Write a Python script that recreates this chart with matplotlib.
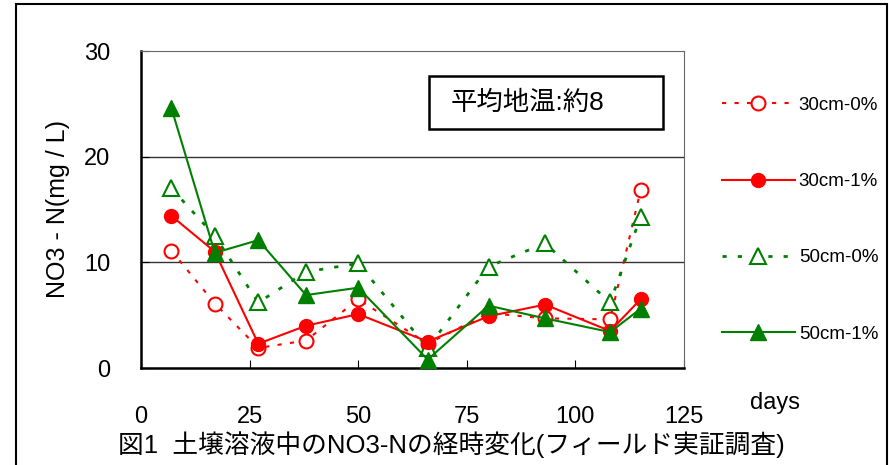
import matplotlib
matplotlib.use("Agg")
import matplotlib.pyplot as plt
from matplotlib.patches import Rectangle

plt.rcParams['font.family'] = ['Liberation Sans', 'Noto Sans CJK JP']

days = [7, 17, 27, 38, 50, 66, 80, 93, 108, 115]
s30_0 = [11.1, 6.1, 1.9, 2.6, 6.5, 2.3, 5.2, 4.7, 4.6, 16.8]
s30_1 = [14.4, 11.0, 2.3, 4.0, 5.1, 2.5, 4.9, 6.0, 3.5, 6.5]
s50_0 = [17.0, 12.5, 6.2, 9.1, 9.9, 1.9, 9.6, 11.8, 6.2, 14.3]
s50_1 = [24.6, 10.9, 12.1, 6.9, 7.6, 0.8, 5.9, 4.7, 3.4, 5.6]
labels = ["30cm-0%", "30cm-1%", "50cm-0%", "50cm-1%"]
xticks = [0, 25, 50, 75, 100, 125]
yticks = [0, 10, 20, 30]

fig = plt.figure(figsize=(8.89, 4.65), dpi=100)
W, H = 889, 465
ax = fig.add_axes([141 / W, 1 - 368 / H, 543 / W, 317 / H])

red = "#ff0000"
green = "#008000"
ax.plot(days, s30_0, color=red, ls=(0, (2, 4)), lw=1.5, marker="o", ms=10,
        mfc="white", mec=red, mew=1.5, label=labels[0], zorder=3)
ax.plot(days, s30_1, color=red, ls="-", lw=1.5, marker="o", ms=10,
        mfc=red, mec=red, label=labels[1], zorder=4)
ax.plot(days, s50_0, color=green, ls=(0, (1.5, 4)), lw=2, marker="^", ms=12,
        mfc="white", mec=green, mew=1.5, label=labels[2], zorder=3)
ax.plot(days, s50_1, color=green, ls="-", lw=1.5, marker="^", ms=12,
        mfc=green, mec=green, label=labels[3], zorder=5)

ax.set_xlim(0, 125)
ax.set_ylim(0, 30)
ax.set_xticks(xticks)
ax.set_yticks(yticks)
ax.tick_params(direction="in", length=6, labelsize=17)
ax.tick_params(axis="x", pad=27)
ax.tick_params(axis="y", pad=22)
for y in [10, 20]:
    ax.axhline(y, color="#333333", lw=1, zorder=1)
ax.spines["left"].set_linewidth(1.8)
ax.spines["bottom"].set_linewidth(1.8)
ax.spines["top"].set_color("#666666")
ax.spines["right"].set_color("#666666")

ax.set_ylabel("NO3 - N(mg / L)", fontsize=18)
ax.yaxis.set_label_coords(-0.131, 0.5)

# temperature box
fig.patches.append(Rectangle((429 / W, 1 - 129 / H), 234 / W, 53 / H,
                             transform=fig.transFigure, fill=False,
                             ec="black", lw=1.8))
fig.text(451 / W, 1 - 103 / H, "平均地温:約8", fontsize=19,
         va="center", ha="left")

# legend
leg = fig.legend(loc="upper left", bbox_to_anchor=(705 / W, 1 - 80 / H),
                 frameon=False, fontsize=13.5, handlelength=3.9,
                 labelspacing=3.15, handletextpad=0.2)

fig.text(750 / W, 1 - 403 / H, "days", fontsize=17, va="center")
fig.text(118 / W, 1 - 445 / H, "図1  土壌溶液中のNO3-Nの経時変化(フィールド実証調査)",
         fontsize=18.5, va="center")

# outer frame
fig.patches.append(Rectangle((16 / W, -0.05), (887 - 16) / W, 1.05 - 4 / H,
                             transform=fig.transFigure, fill=False,
                             ec="black", lw=1.5))

fig.savefig("out.png", dpi=100)
